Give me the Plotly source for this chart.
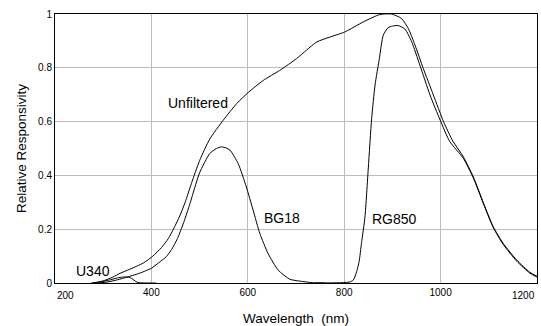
import plotly.graph_objects as go

# Relative spectral responsivity of a silicon detector, bare and with three filters
unfiltered_nm = [280, 300, 320, 335, 355, 383, 403, 421, 435, 447, 459, 470, 483,
                 500, 521, 549, 577, 602, 632, 666, 701, 722, 743, 770, 801, 840, 874,
                 898, 919, 933, 947, 964, 985, 1006, 1026, 1047, 1068, 1089, 1109, 1130,
                 1158, 1185, 1200]
unfiltered_val = [0.0, 0.008, 0.022, 0.036, 0.051, 0.074, 0.1, 0.132, 0.165, 0.205, 0.25,
                  0.3, 0.37, 0.455, 0.535, 0.605, 0.667, 0.71, 0.753, 0.79, 0.834,
                  0.866, 0.896, 0.914, 0.933, 0.971, 0.998, 1.0, 0.983, 0.946, 0.884, 0.798,
                  0.699, 0.6, 0.526, 0.47, 0.394, 0.297, 0.21, 0.147, 0.085, 0.04, 0.025]

bg18_nm = [290, 310, 330, 350, 370, 385, 400, 415, 431, 442, 454, 467, 480, 490, 500, 521,
           535, 545, 555, 563, 580, 597, 611, 625, 642, 663, 687, 708, 736, 760]
bg18_val = [0.0, 0.004, 0.012, 0.022, 0.033, 0.043, 0.055, 0.075, 0.098, 0.125, 0.165, 0.225,
            0.295, 0.355, 0.41, 0.481, 0.5, 0.506, 0.502, 0.494, 0.444, 0.357, 0.271, 0.184,
            0.11, 0.048, 0.014, 0.007, 0.001, 0.0]

u340_nm = [275, 295, 315, 330, 340, 352, 360, 368, 375, 390, 410]
u340_val = [0.0, 0.004, 0.012, 0.019, 0.022, 0.022, 0.016, 0.005, 0.001, 0.0, 0.0]

rg850_nm = [740, 790, 812, 819, 826, 831, 836, 843, 850, 857, 864, 873, 881, 891, 900, 912,
            926, 940, 957, 978, 999, 1019, 1047, 1068, 1089, 1109, 1130, 1158, 1185, 1200]
rg850_val = [0.0, 0.001, 0.004, 0.011, 0.043, 0.08, 0.15, 0.245, 0.427, 0.612, 0.736, 0.835,
             0.921, 0.949, 0.955, 0.957, 0.944, 0.897, 0.81, 0.699, 0.606, 0.526, 0.464,
             0.39, 0.294, 0.207, 0.143, 0.081, 0.037, 0.022]

# Curve labels: text, wavelength, responsivity
label_text = ["Unfiltered", "BG18", "RG850", "U340"]
label_nm = [496, 670, 905, 279]
label_val = [0.668, 0.24, 0.237, 0.046]

x_tick_vals = [200, 400, 600, 800, 1000, 1200]
x_tick_text = ["200", "400", "600", "800", "1000", "1200"]

FONT = "Liberation Sans, Arial, sans-serif"

fig = go.Figure()
for name, xs, ys in [("Unfiltered", unfiltered_nm, unfiltered_val),
                     ("BG18", bg18_nm, bg18_val),
                     ("U340", u340_nm, u340_val),
                     ("RG850", rg850_nm, rg850_val)]:
    fig.add_trace(go.Scatter(x=xs, y=ys, mode="lines", name=name,
                             line=dict(color="black", width=1, shape="spline", smoothing=0.6),
                             hoverinfo="x+y+name"))

annotations = []
for t, x, y in zip(label_text, label_nm, label_val):
    annotations.append(dict(x=x, y=y, xref="x", yref="y", text=t, showarrow=False,
                            xanchor="center", yanchor="middle",
                            font=dict(family=FONT, size=14, color="black")))

# Interior tick labels come from the axis; the two end labels sit inside the frame
for v, t in zip(x_tick_vals, x_tick_text):
    if v == x_tick_vals[0]:
        anchor = "left"
    elif v == x_tick_vals[-1]:
        anchor = "right"
    else:
        continue
    annotations.append(dict(x=v, y=0, xref="x", yref="paper", text=t, showarrow=False,
                            xanchor=anchor, yanchor="top", yshift=-5,
                            font=dict(family=FONT, size=10, color="black")))

axis_common = dict(showgrid=True, gridcolor="#bdbdbd", gridwidth=1, zeroline=False,
                   showline=True, linecolor="black", linewidth=1, mirror=True,
                   ticks="", tickfont=dict(family=FONT, size=10, color="black"))

fig.update_layout(
    width=541, height=326,
    margin=dict(l=55, r=4, t=13.5, b=43),
    paper_bgcolor="white", plot_bgcolor="white",
    showlegend=False,
    font=dict(family=FONT, color="black"),
    xaxis=dict(range=[200, 1200], tickvals=x_tick_vals[1:-1], ticktext=x_tick_text[1:-1],
               title=dict(text="Wavelength  (nm)", font=dict(family=FONT, size=13.5), standoff=16),
               **axis_common),
    yaxis=dict(range=[0, 1], dtick=0.2,
               title=dict(text="Relative Responsivity", font=dict(family=FONT, size=13.5), standoff=8),
               **axis_common),
    annotations=annotations,
)

fig.write_html("out.html")
